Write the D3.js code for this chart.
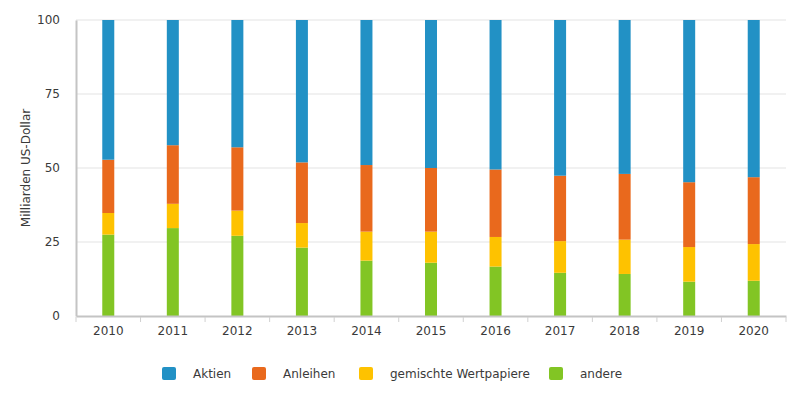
<!DOCTYPE html>
<html>
<head>
<meta charset="utf-8">
<script src="https://cdn.jsdelivr.net/npm/d3@7"></script>
<style>
  body { margin: 0; background: #fff; }
  text { font-family: "DejaVu Sans", sans-serif; fill: #3a3a3a; }
</style>
</head>
<body>
<svg id="chart" width="792" height="394"></svg>
<script>
// data
const years = ["2010","2011","2012","2013","2014","2015","2016","2017","2018","2019","2020"];
const andere    = [27.5, 29.7, 27.1, 23.1, 18.7, 18.0, 16.7, 14.6, 14.2, 11.6, 11.9];
const gemischte = [7.3, 8.2, 8.5, 8.3, 9.8, 10.5, 10.0, 10.7, 11.6, 11.7, 12.4];
const anleihen  = [18.0, 19.8, 21.4, 20.5, 22.5, 21.5, 22.8, 22.1, 22.2, 21.9, 22.6];
const aktien    = [47.2, 42.3, 43.0, 48.1, 49.0, 50.0, 50.5, 52.6, 52.0, 54.8, 53.1];
const seriesNames = ["Aktien", "Anleihen", "gemischte Wertpapiere", "andere"];
const colors = ["#2291c5", "#e9691d", "#fec200", "#82c524"];
const yTicks = [0, 25, 50, 75, 100];

const svg = d3.select("#chart");
const mLeft = 76, mRight = 786, mTop = 20, mBottom = 316;

const rows = years.map((y, i) => ({
  year: y,
  "andere": andere[i],
  "gemischte Wertpapiere": gemischte[i],
  "Anleihen": anleihen[i],
  "Aktien": aktien[i]
}));

// stack from the bottom: andere, gemischte, Anleihen, Aktien
const stackKeys = seriesNames.slice().reverse();
const stacked = d3.stack().keys(stackKeys)(rows);
const color = d3.scaleOrdinal().domain(seriesNames).range(colors);

const x = d3.scaleBand().domain(years).range([mLeft, mRight]);
const y = d3.scaleLinear().domain([0, 100]).range([mBottom, mTop]);

// grid
svg.append("g").selectAll("line").data(yTicks.filter(d => d > 0)).enter().append("line")
  .attr("x1", mLeft).attr("x2", mRight)
  .attr("y1", d => y(d)).attr("y2", d => y(d))
  .style("stroke", "#e3e3e3").style("stroke-width", "1px");

// bars
const barW = 12;
svg.append("g").selectAll("g").data(stacked).enter().append("g")
  .attr("fill", d => color(d.key))
  .selectAll("rect").data(d => d).enter().append("rect")
  .attr("x", d => x(d.data.year) + x.bandwidth() / 2 - barW / 2)
  .attr("width", barW)
  .attr("y", d => y(d[1]))
  .attr("height", d => y(d[0]) - y(d[1]));

// y axis
const yAxis = svg.append("g").attr("transform", `translate(${mLeft},0)`)
  .call(d3.axisLeft(y).tickValues(yTicks).tickSize(0).tickPadding(16));
yAxis.select(".domain").style("stroke", "#c4c4c4").style("stroke-width", "2px");
yAxis.selectAll("text").style("font-size", "12px").style("fill", "#3a3a3a");

// x axis
const xAxis = svg.append("g").attr("transform", `translate(0,${mBottom})`)
  .call(d3.axisBottom(x).tickSize(0).tickPadding(10));
xAxis.select(".domain").style("stroke", "#c4c4c4").style("stroke-width", "2px");
xAxis.selectAll("text").style("font-size", "12px").style("fill", "#3a3a3a");
xAxis.selectAll(".sep").data(d3.range(years.length + 1)).enter().append("line")
  .attr("class", "sep")
  .attr("x1", d => mLeft + d * x.step()).attr("x2", d => mLeft + d * x.step())
  .attr("y1", 1).attr("y2", 6)
  .style("stroke", "#d0d0d0");

// y axis title
svg.append("text")
  .attr("transform", `translate(30,${(mTop + mBottom) / 2}) rotate(-90)`)
  .attr("text-anchor", "middle")
  .style("font-size", "12px")
  .text("Milliarden US-Dollar");

// legend
const legendX = [162, 252, 359, 549];
const legend = svg.append("g").selectAll("g").data(seriesNames).enter().append("g")
  .attr("transform", (d, i) => `translate(${legendX[i]},367)`);
legend.append("rect").attr("width", 14).attr("height", 13).attr("rx", 2)
  .attr("fill", d => color(d));
legend.append("text").attr("x", 31).attr("y", 11)
  .style("font-size", "12px")
  .text(d => d);
</script>
</body>
</html>
